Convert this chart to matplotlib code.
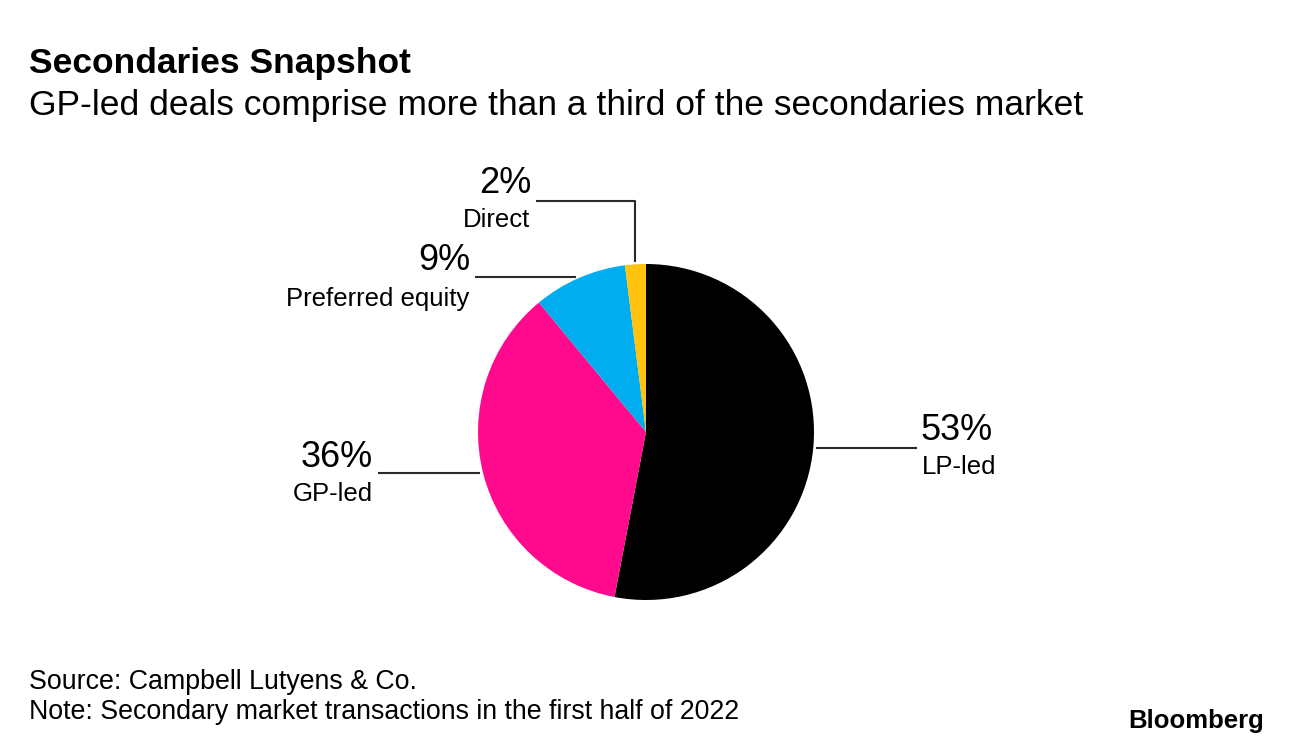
import matplotlib
matplotlib.use("Agg")
import matplotlib.pyplot as plt

categories = ["LP-led", "GP-led", "Preferred equity", "Direct"]
shares = [53, 36, 9, 2]
pct_labels = ["53%", "36%", "9%", "2%"]
colors = ["#000000", "#FF0A8C", "#00AEEF", "#FFC20E"]

W, H = 1292, 748
plt.rcParams['font.family'] = ['Liberation Sans', 'DejaVu Sans']
fig = plt.figure(figsize=(W / 100, H / 100), dpi=100)
ax = fig.add_axes([0, 0, 1, 1])

def Y(py):
    return H - py

ax.pie(shares, colors=colors, startangle=90, counterclock=False,
       center=(646, Y(432)), radius=168, frame=True,
       wedgeprops=dict(linewidth=0))
ax.set_xlim(0, W)
ax.set_ylim(0, H)
ax.set_aspect('equal')
ax.axis('off')

lc = "#2a2a2a"
lw = 1.5
big = 26
small = 18.5
# LP-led
ax.plot([817, 916], [Y(448), Y(448)], color=lc, lw=lw)
ax.text(921, Y(440), pct_labels[0], fontsize=big, ha='left', va='baseline')
ax.text(922, Y(474), categories[0], fontsize=small, ha='left', va='baseline')
# GP-led
ax.plot([379, 479], [Y(473), Y(473)], color=lc, lw=lw)
ax.text(373, Y(467), pct_labels[1], fontsize=big, ha='right', va='baseline')
ax.text(373, Y(501), categories[1], fontsize=small, ha='right', va='baseline')
# Preferred equity
ax.plot([476, 575], [Y(277), Y(277)], color=lc, lw=lw)
ax.text(470, Y(270), pct_labels[2], fontsize=big, ha='right', va='baseline')
ax.text(469, Y(306), categories[2], fontsize=small, ha='right', va='baseline')
# Direct
ax.plot([537, 635, 635], [Y(201), Y(201), Y(261)], color=lc, lw=lw)
ax.text(531, Y(193), pct_labels[3], fontsize=big, ha='right', va='baseline')
ax.text(530, Y(227), categories[3], fontsize=small, ha='right', va='baseline')

fig.text(29 / W, 1 - 73 / H, "Secondaries Snapshot", fontsize=25.5,
         fontweight='bold', ha='left', va='baseline')
fig.text(29 / W, 1 - 115 / H,
         "GP-led deals comprise more than a third of the secondaries market",
         fontsize=25.5, ha='left', va='baseline')
fig.text(29 / W, 1 - 689 / H, "Source: Campbell Lutyens & Co.",
         fontsize=19.3, ha='left', va='baseline')
fig.text(29 / W, 1 - 719 / H,
         "Note: Secondary market transactions in the first half of 2022",
         fontsize=19.3, ha='left', va='baseline')
fig.text(1264 / W, 1 - 728 / H, "Bloomberg", fontsize=18.5,
         fontweight='bold', ha='right', va='baseline')

fig.savefig("out.png", dpi=100)
